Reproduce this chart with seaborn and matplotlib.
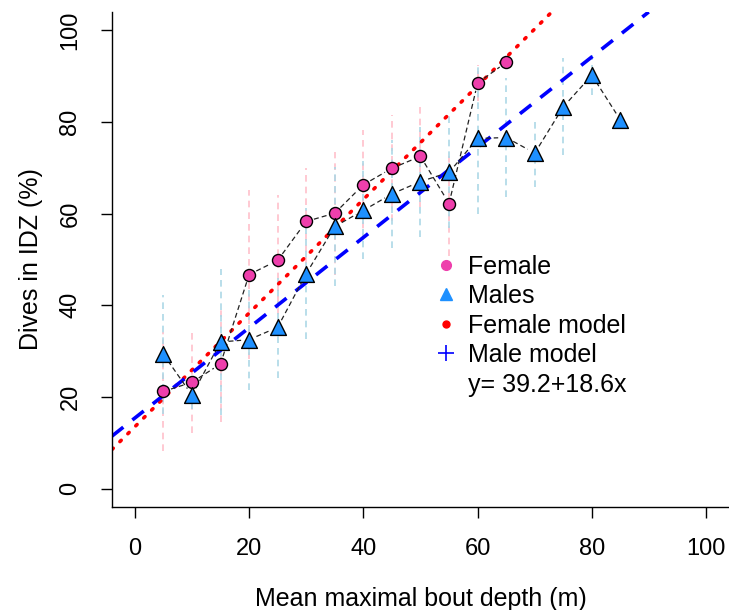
import matplotlib
matplotlib.use("Agg")
import matplotlib.pyplot as plt
from matplotlib.lines import Line2D
import numpy as np
import pandas as pd
import seaborn as sns

# data
female_depth = [5, 10, 15, 20, 25, 30, 35, 40, 45, 50, 55, 60, 65]
female_idz = [21.2, 23.2, 27.2, 46.7, 49.8, 58.3, 60.1, 66.3, 69.9, 72.5, 62.2, 88.5, 93.0]
female_err = [13.0, 11.0, 12.6, 18.5, 14.3, 11.6, 13.4, 12.0, 11.6, 11.0, 11.5, 4.0, 0.0]

male_depth = [5, 10, 15, 20, 25, 30, 35, 40, 45, 50, 55, 60, 65, 70, 75, 80, 85]
male_idz = [29.3, 20.4, 32.0, 32.5, 35.2, 46.9, 57.2, 60.7, 64.3, 67.0, 69.0, 76.4, 76.6, 73.2, 83.3, 90.2, 80.4]
male_err = [13.0, 3.0, 16.0, 11.0, 11.0, 14.3, 13.0, 10.7, 11.8, 12.0, 12.2, 16.4, 13.0, 7.4, 10.6, 4.3, 0.0]

# fitted model lines (intercept, slope)
female_model = (13.5, 1.24)
male_model = (15.4, 0.985)

legend_labels = ["Female", "Males", "Female model", "Male model", "y= 39.2+18.6x"]

PINK = "#EE3FAC"
BLUE = "#1E90FF"

sns.set_theme(style="ticks")
plt.rcParams["font.family"] = ["Liberation Sans", "DejaVu Sans"]
plt.rcParams["text.color"] = "black"
plt.rcParams["axes.labelcolor"] = "black"
plt.rcParams["xtick.color"] = "black"
plt.rcParams["ytick.color"] = "black"

df_f = pd.DataFrame({"depth": female_depth, "idz": female_idz, "err": female_err})
df_m = pd.DataFrame({"depth": male_depth, "idz": male_idz, "err": male_err})

fig = plt.figure(figsize=(7.29, 6.10), dpi=100)
ax = fig.add_axes([0.1536, 0.1689, 0.8464, 0.8115])
ax.set_xlim(-4, 104)
ax.set_ylim(-4, 104)

# error bars
ax.vlines(df_f["depth"], df_f["idz"] - df_f["err"], df_f["idz"] + df_f["err"],
          colors="pink", linestyles=(0, (4, 3)), lw=1.2, zorder=1)
ax.vlines(df_m["depth"], df_m["idz"] - df_m["err"], df_m["idz"] + df_m["err"],
          colors="lightblue", linestyles=(0, (4, 3)), lw=1.2, zorder=1)

# model lines
ax.axline((0, female_model[0]), slope=female_model[1], color="red",
          lw=2.6, linestyle=(0, (0.5, 2.6)), dash_capstyle="round", zorder=2)
ax.axline((0, male_model[0]), slope=male_model[1], color="blue",
          lw=2.6, linestyle=(0, (4, 3.2)), zorder=2)


def gapped_line(x, y, gap=8):
    # R type="b": segments stop short of the points
    pts = ax.transData.transform(np.column_stack([x, y]))
    inv = ax.transData.inverted()
    for a, b in zip(pts[:-1], pts[1:]):
        d = b - a
        n = np.hypot(*d)
        if n <= 2 * gap:
            continue
        u = d / n
        seg = inv.transform(np.array([a + u * gap, b - u * gap]))
        ax.plot(seg[:, 0], seg[:, 1], color="#222222", lw=0.9,
                linestyle=(0, (4, 2.5)), zorder=3)


gapped_line(df_f["depth"], df_f["idz"])
gapped_line(df_m["depth"], df_m["idz"])

sns.scatterplot(data=df_f, x="depth", y="idz", ax=ax, marker="o", s=75,
                color=PINK, edgecolor="black", linewidth=1.0, zorder=4)
sns.scatterplot(data=df_m, x="depth", y="idz", ax=ax, marker="^", s=130,
                color=BLUE, edgecolor="black", linewidth=1.0, zorder=4)

handles = [
    Line2D([], [], ls="none", marker="o", ms=7, color=PINK),
    Line2D([], [], ls="none", marker="^", ms=8, color=BLUE),
    Line2D([], [], ls="none", marker="o", ms=5, color="red"),
    Line2D([], [], ls="none", marker="+", ms=12, mew=1.2, color="blue"),
    Line2D([], [], ls="none"),
]
ax.legend(handles, legend_labels, loc="upper left", bbox_to_anchor=(0.521, 0.51),
          frameon=False, fontsize=18, handlelength=1.0, handletextpad=0.4,
          labelspacing=0.22, borderpad=0, borderaxespad=0)

ax.set_xticks([0, 20, 40, 60, 80, 100])
ax.set_yticks([0, 20, 40, 60, 80, 100])
ax.tick_params(axis="both", direction="out", length=8, width=1, color="black",
               labelsize=17, pad=14)
for lbl in ax.get_yticklabels():
    lbl.set_rotation(90)
    lbl.set_va("center")
ax.set_xlabel("Mean maximal bout depth (m)", fontsize=18, labelpad=20)
ax.set_ylabel("Dives in IDZ (%)", fontsize=18, labelpad=12)
sns.despine(ax=ax)
for side in ["left", "bottom"]:
    ax.spines[side].set_color("black")
    ax.spines[side].set_linewidth(1)

fig.savefig("out.png", dpi=100)
